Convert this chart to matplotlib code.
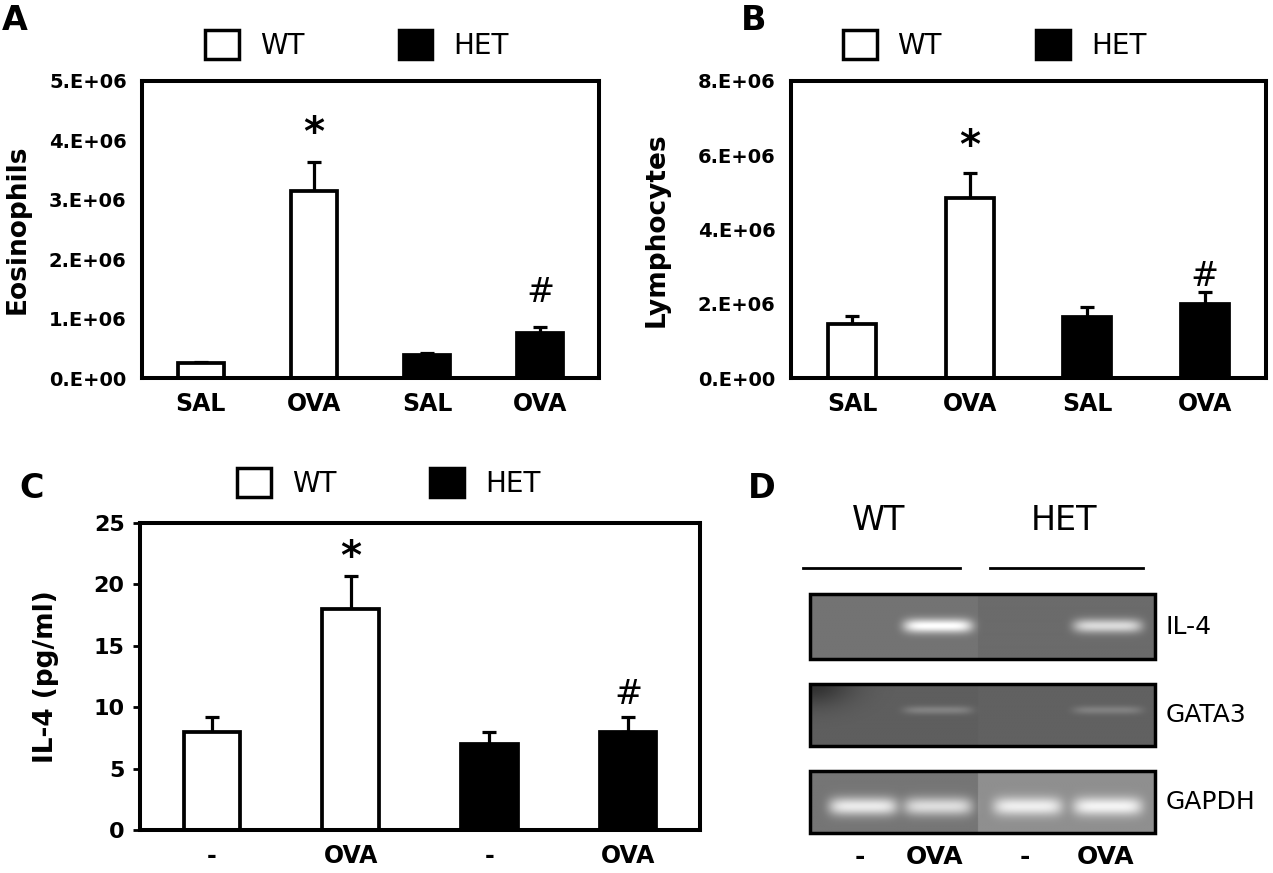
import numpy as np
import matplotlib
matplotlib.use("Agg")
import matplotlib.pyplot as plt
from matplotlib.patches import Rectangle

W, H = 1273, 873

# data
groups = ["WT", "HET"]
xlabels_ab = ["SAL", "OVA", "SAL", "OVA"]
xlabels_c = ["-", "OVA", "-", "OVA"]
bar_colors = ["white", "white", "black", "black"]

eos = [0.25e6, 3.15e6, 0.39e6, 0.76e6]
eos_err = [0.02e6, 0.49e6, 0.03e6, 0.10e6]
eos_ticks = [0, 1e6, 2e6, 3e6, 4e6, 5e6]
eos_ticklabels = ["0.E+00", "1.E+06", "2.E+06", "3.E+06", "4.E+06", "5.E+06"]

lym = [1.45e6, 4.85e6, 1.64e6, 2.00e6]
lym_err = [0.22e6, 0.68e6, 0.27e6, 0.32e6]
lym_ticks = [0, 2e6, 4e6, 6e6, 8e6]
lym_ticklabels = ["0.E+00", "2.E+06", "4.E+06", "6.E+06", "8.E+06"]

il4 = [8.0, 18.0, 7.0, 8.0]
il4_err = [1.2, 2.7, 1.0, 1.2]
il4_ticks = [0, 5, 10, 15, 20, 25]

# significance marks: bar index and height of the mark
marks_a = [(1, "*", 4.31e6), (3, "#", 1.48e6)]
marks_b = [(1, "*", 6.55e6), (3, "#", 2.80e6)]
marks_c = [(1, "*", 23.2), (3, "#", 11.3)]

# RT-PCR gel (panel D): band strength per lane (WT -, WT OVA, HET -, HET OVA)
gel_genes = ["IL-4", "GATA3", "GAPDH"]
gel_bands = [[0.0, 1.0, 0.0, 0.75],
             [0.0, 0.22, 0.0, 0.20],
             [0.85, 0.75, 0.85, 0.90]]
gel_bg = [(0.45, 0.42), (0.37, 0.38), (0.46, 0.56)]
gel_lanes = ["-", "OVA", "-", "OVA"]


def px_rect(x0, y0, x1, y1):
    return [x0 / W, 1 - y1 / H, (x1 - x0) / W, (y1 - y0) / H]


def bar_panel(rect, vals, errs, ylim, ticks, ticklabels, xlabels, ylabel,
              marks, leg_x, leg_y, ylab_x, ytick_fs, outward):
    ax = fig.add_axes(rect)
    x = np.arange(len(vals))
    ax.bar(x, vals, width=0.41, color=bar_colors, edgecolor="black",
           linewidth=2.7, zorder=2)
    ax.errorbar(x, vals, yerr=[np.zeros(len(errs)), errs], fmt="none",
                ecolor="black", elinewidth=2.3, capsize=5, capthick=2.3,
                zorder=1)
    ax.set_xlim(-0.52, 3.52)
    ax.set_ylim(*ylim)
    ax.set_yticks(ticks)
    ax.set_yticklabels(ticklabels)
    ax.set_xticks(x)
    ax.set_xticklabels(xlabels)
    for s in ax.spines.values():
        s.set_linewidth(2.9)
    if outward:
        ax.tick_params(axis="y", length=5, width=2, direction="out", pad=6,
                       labelsize=ytick_fs)
    else:
        ax.tick_params(axis="y", length=0, pad=11, labelsize=ytick_fs)
    ax.tick_params(axis="x", length=0, pad=10, labelsize=17)
    for lab in ax.get_xticklabels() + ax.get_yticklabels():
        lab.set_fontweight("bold")
    ax.set_ylabel(ylabel, fontsize=19, fontweight="bold")
    ax.yaxis.set_label_coords(ylab_x, 0.5)
    for i, m, yv in marks:
        if m == "*":
            ax.annotate(m, (x[i], yv), xytext=(0, -9), textcoords="offset points",
                        ha="center", va="center", fontsize=29, fontweight="bold")
        else:
            ax.annotate(m, (x[i], yv), xytext=(0, -2), textcoords="offset points",
                        ha="center", va="center", fontsize=24)
    handles = [Rectangle((0, 0), 1, 1, facecolor=c, edgecolor="black", linewidth=2.5)
               for c in ["white", "black"]]
    ax.legend(handles, groups, loc="center left", bbox_to_anchor=(leg_x, leg_y),
              ncol=2, frameon=False, fontsize=20, handlelength=1.22,
              handleheight=1.2, handletextpad=0.75, columnspacing=3.4,
              borderpad=0, borderaxespad=0)
    return ax


fig = plt.figure(figsize=(W / 100, H / 100), dpi=100)

bar_panel(px_rect(142, 81, 599, 378), eos, eos_err, (0, 5e6), eos_ticks,
          eos_ticklabels, xlabels_ab, "Eosinophils", marks_a,
          0.138, 1.121, -0.243, 14, False)
bar_panel(px_rect(791, 81, 1266, 378), lym, lym_err, (0, 8e6), lym_ticks,
          lym_ticklabels, xlabels_ab, "Lymphocytes", marks_b,
          0.109, 1.121, -0.255, 14, False)
bar_panel(px_rect(140, 523, 700, 830), il4, il4_err, (0, 25), il4_ticks,
          [str(t) for t in il4_ticks], xlabels_c, "IL-4 (pg/ml)", marks_c,
          0.173, 1.13, -0.145, 16, True)

# panel D, drawn in pixel coordinates
axd = fig.add_axes(px_rect(760, 440, W, H))
axd.set_xlim(760, W)
axd.set_ylim(H, 440)
axd.axis("off")

gel_x0, gel_x1 = 810, 1155
gel_rows = [(594, 659), (684, 746), (771, 833)]
band_y = [0.49, 0.42, 0.57]
band_h = [0.11, 0.07, 0.15]
lane_pos = [0.154, 0.371, 0.632, 0.864]
xs = np.linspace(0, 1, 460)
ys = np.linspace(0, 1, 90)
X, Y = np.meshgrid(xs, ys)
for k, gene in enumerate(gel_genes):
    bl, br = gel_bg[k]
    img = np.where(X < 0.487, bl, br)
    if gene == "GATA3":
        img = img - 0.18 * np.exp(-(X / 0.12) ** 2 - (Y / 0.35) ** 2)
    for c, lv in zip(lane_pos, gel_bands[k]):
        img = img + lv * (1 - img) * np.exp(-((X - c) / 0.1) ** 6) * \
            np.exp(-((Y - band_y[k]) / band_h[k]) ** 2)
    y0, y1 = gel_rows[k]
    axd.imshow(np.clip(img, 0, 1), cmap="gray", vmin=0, vmax=1, aspect="auto",
               extent=(gel_x0, gel_x1, y1, y0), interpolation="bilinear")
    axd.add_patch(Rectangle((gel_x0, y0), gel_x1 - gel_x0, y1 - y0, fill=False,
                            edgecolor="black", linewidth=2.5))
    axd.text(1166, (y0 + y1) / 2, gene, ha="left", va="center", fontsize=18)

axd.text(879, 521, "WT", ha="center", va="center", fontsize=24)
axd.text(1064, 521, "HET", ha="center", va="center", fontsize=24)
axd.plot([803, 960], [568, 568], color="black", linewidth=2)
axd.plot([990, 1143], [568, 568], color="black", linewidth=2)
for c, lab in zip(lane_pos, gel_lanes):
    axd.text(gel_x0 + c * (gel_x1 - gel_x0) - 3, 857, lab, ha="center",
             va="center", fontsize=18, fontweight="bold")

# panel letters
for lx, ly, letter in [(2, 20, "A"), (741, 20, "B"), (19, 488, "C"), (748, 489, "D")]:
    fig.text(lx / W, 1 - ly / H, letter, ha="left", va="center",
             fontsize=24, fontweight="bold")

fig.savefig("out.png", dpi=100)
